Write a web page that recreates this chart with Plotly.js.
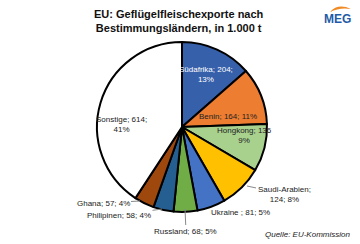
<!DOCTYPE html>
<html><head><meta charset="utf-8">
<script src="https://cdn.plot.ly/plotly-3.0.1.min.js"></script>
<style>html,body{margin:0;padding:0;background:#fff}#chart{width:360px;height:244px}</style>
</head><body><div id="chart"></div>
<script>
// ---- data ----
const countries = ['Südafrika','Benin','Hongkong','Saudi-Arabien','Ukraine ','Russland','Philipinen','Ghana','Sonstige'];
const values = [204, 164, 136, 124, 81, 68, 58, 57, 614];
const percents = [13, 11, 9, 8, 5, 5, 4, 4, 41];
// where each label breaks onto a second line: 0 none, 1 after name, 2 after value
const breaks = [2, 0, 2, 1, 0, 0, 0, 0, 2];

// ---- style ----
const colors = ['#3760AB','#ED7D31','#A9D18E','#FFC000','#4472C4','#70AD47','#255E91','#9E480E','#FFFFFF'];
const textColors = ['#fff','#222','#222','#222','#222','#222','#222','#222','#222'];
const W = 360, H = 244;
const cx = 182, cy = 127, r = 85;
const labelPos = [[206,75],[228,116],[244,135],[284,194],[240,212],[186,231],[119,215],[103,203],[121,124]];
const leaderHead = [null,null,null,[247,186],null,[185,209],[162,209],[140,201],null];
const fontFam = 'Arial, "Liberation Sans", sans-serif';

function labelText(i){
  const n = countries[i], v = values[i] + ';', p = percents[i] + '%';
  if (breaks[i] === 1) return n + ';<br>' + v + ' ' + p;
  if (breaks[i] === 2) return n + '; ' + (i===2 ? values[i] : v) + '<br>' + p;
  return n + '; ' + v + ' ' + p;
}

const annotations = countries.map((c, i) => {
  const [tx, ty] = labelPos[i];
  const base = {
    xref: 'paper', yref: 'paper', text: labelText(i),
    font: {family: fontFam, size: 8, color: textColors[i]},
    align: 'center', xanchor: 'center', yanchor: 'middle'
  };
  const h = leaderHead[i];
  if (h) {
    return Object.assign(base, {
      x: h[0]/W, y: 1 - h[1]/H, showarrow: true, arrowhead: 0,
      arrowwidth: 1, arrowcolor: '#888', ax: tx - h[0], ay: ty - h[1], standoff: 0
    });
  }
  return Object.assign(base, {x: tx/W, y: 1 - ty/H, showarrow: false});
});

annotations.push({
  xref: 'paper', yref: 'paper', x: 179/W, y: 1 - 21/H, showarrow: false,
  text: '<b>EU: Geflügelfleischexporte nach<br>Bestimmungsländern, in 1.000 t</b>',
  font: {family: fontFam, size: 11, color: '#111'}, align: 'center',
  xanchor: 'center', yanchor: 'middle'
});
annotations.push({
  xref: 'paper', yref: 'paper', x: 337/W, y: 1 - 19/H, showarrow: false,
  text: '<b>MEG</b>', font: {family: fontFam, size: 12, color: '#1F5BA8'},
  xanchor: 'center', yanchor: 'middle'
});
annotations.push({
  xref: 'paper', yref: 'paper', x: 352/W, y: 1 - 234/H, showarrow: false,
  text: '<i>Quelle: EU-Kommission</i>', font: {family: fontFam, size: 8, color: '#222'},
  xanchor: 'right', yanchor: 'middle'
});

const shapes = [{
  type: 'path', xref: 'paper', yref: 'paper',
  path: `M ${330/W} ${1-12/H} Q ${338/W} ${1-3/H} ${351/W} ${1-9/H} Q ${340/W} ${1-7/H} ${330/W} ${1-12/H} Z`,
  fillcolor: '#F08A24', line: {width: 0}
}];

const trace = {
  type: 'pie', labels: countries, values: values, sort: false,
  direction: 'clockwise', rotation: 0, textinfo: 'none', hoverinfo: 'none',
  marker: {colors: colors, line: {color: '#000', width: 2}},
  domain: {x: [(cx - r)/W, (cx + r)/W], y: [1 - (cy + r)/H, 1 - (cy - r)/H]},
  showlegend: false
};

Plotly.newPlot('chart', [trace], {
  width: W, height: H, margin: {l: 0, r: 0, t: 0, b: 0},
  paper_bgcolor: '#fff', annotations: annotations, shapes: shapes, showlegend: false
}, {displayModeBar: false, staticPlot: true});
</script></body></html>
